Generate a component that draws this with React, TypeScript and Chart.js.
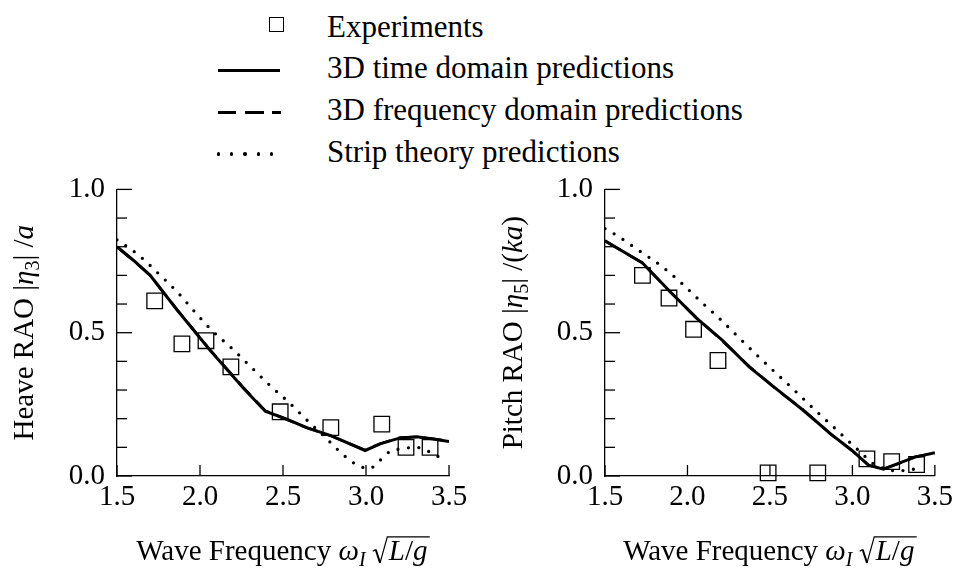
import React, { useEffect, useRef } from 'react';
import { Chart, registerables } from 'chart.js';

Chart.register(...registerables);

const FONT = '"Liberation Serif", "Times New Roman", Times, serif';
const AXIS_FONT_SIZE = 29;
const LEGEND_FONT_SIZE = 31;

// ---------- Data ----------
const xTickLabels = ['1.5', '2.0', '2.5', '3.0', '3.5'];
const yTickLabels = ['0.0', '0.5', '1.0'];

const heaveExpX = [1.727, 1.891, 2.036, 2.186, 2.483, 2.788, 3.095, 3.241, 3.386];
const heaveExpY = [0.611, 0.461, 0.472, 0.381, 0.224, 0.169, 0.181, 0.1, 0.1];

const heaveTimeX = [1.5, 1.6, 1.7, 1.861, 2.062, 2.262, 2.393, 2.523, 2.643, 2.788, 2.995, 3.085, 3.205, 3.305, 3.405, 3.5];
const heaveTimeY = [0.8, 0.752, 0.7, 0.58, 0.438, 0.306, 0.226, 0.198, 0.169, 0.141, 0.089, 0.112, 0.133, 0.137, 0.129, 0.12];

const heaveFreqX = [1.5, 1.6, 1.7, 1.861, 2.062, 2.262, 2.393, 2.523, 2.643, 2.788, 2.995, 3.085, 3.205, 3.305, 3.405, 3.5];
const heaveFreqY = [0.799, 0.751, 0.7, 0.581, 0.439, 0.308, 0.228, 0.197, 0.168, 0.14, 0.09, 0.113, 0.134, 0.136, 0.13, 0.121];

const heaveStripX = [1.5, 1.634, 1.75, 1.865, 1.971, 2.075, 2.196, 2.306, 2.423, 2.539, 2.653, 2.77, 2.824, 2.884, 2.948, 3.02, 3.085, 3.145, 3.219, 3.3, 3.375, 3.45];
const heaveStripY = [0.824, 0.769, 0.706, 0.641, 0.571, 0.506, 0.443, 0.381, 0.315, 0.255, 0.19, 0.126, 0.095, 0.064, 0.038, 0.026, 0.055, 0.086, 0.095, 0.1, 0.086, 0.063];

const pitchExpX = [1.727, 1.888, 2.037, 2.185, 2.489, 2.79, 3.088, 3.238, 3.389];
const pitchExpY = [0.7, 0.621, 0.512, 0.403, 0.011, 0.011, 0.06, 0.05, 0.04];

const pitchTimeX = [1.5, 1.727, 1.888, 2.053, 2.214, 2.374, 2.535, 2.696, 2.87, 2.997, 3.098, 3.188, 3.279, 3.379, 3.5];
const pitchTimeY = [0.821, 0.743, 0.647, 0.552, 0.472, 0.381, 0.306, 0.232, 0.146, 0.089, 0.038, 0.024, 0.044, 0.066, 0.081];

const pitchFreqX = [1.5, 1.727, 1.888, 2.053, 2.214, 2.374, 2.535, 2.696, 2.87, 2.997, 3.098, 3.188, 3.279, 3.379, 3.5];
const pitchFreqY = [0.82, 0.744, 0.646, 0.553, 0.47, 0.383, 0.304, 0.234, 0.145, 0.09, 0.037, 0.025, 0.043, 0.067, 0.08];

const pitchStripX = [1.5, 1.57, 1.707, 1.836, 1.96, 2.073, 2.193, 2.306, 2.419, 2.535, 2.656, 2.77, 2.887, 3.002, 3.059, 3.119, 3.19, 3.262, 3.343, 3.423];
const pitchStripY = [0.863, 0.84, 0.786, 0.735, 0.675, 0.613, 0.55, 0.486, 0.423, 0.36, 0.295, 0.232, 0.17, 0.108, 0.078, 0.046, 0.027, 0.018, 0.021, 0.03];

const legendLabels = ['Experiments', '3D time domain predictions', '3D frequency domain predictions', 'Strip theory predictions'];

// ---------- Rich text helpers ----------
type Seg = { t?: string; it?: boolean; sub?: boolean; root?: Seg[] };

const heaveTitle: Seg[] = [
  { t: 'Heave RAO ' }, { t: '|' }, { t: 'η', it: true }, { t: '3', sub: true }, { t: '|' }, { t: ' /' }, { t: 'a', it: true },
];
const pitchTitle: Seg[] = [
  { t: 'Pitch RAO ' }, { t: '|' }, { t: 'η', it: true }, { t: '5', sub: true }, { t: '|' }, { t: ' /(' }, { t: 'ka', it: true }, { t: ')' },
];
const xTitle: Seg[] = [
  { t: 'Wave Frequency ' }, { t: 'ω', it: true }, { t: 'I', it: true, sub: true }, { t: ' ' },
  { root: [{ t: 'L', it: true }, { t: '/' }, { t: 'g', it: true }] },
];

function fontOf(s: Seg, size: number) {
  const sz = s.sub ? Math.round(size * 0.7) : size;
  return `${s.it ? 'italic ' : ''}${sz}px ${FONT}`;
}

function segsWidth(ctx: CanvasRenderingContext2D, segs: Seg[], size: number): number {
  let w = 0;
  for (const s of segs) {
    if (s.root) {
      w += size * 0.55 + segsWidth(ctx, s.root, size) + size * 0.08;
    } else {
      ctx.font = fontOf(s, size);
      w += ctx.measureText(s.t || '').width;
    }
  }
  return w;
}

function drawSegs(ctx: CanvasRenderingContext2D, segs: Seg[], x: number, y: number, size: number): number {
  for (const s of segs) {
    if (s.root) {
      const inner = segsWidth(ctx, s.root, size);
      const top = y - size * 0.8;
      ctx.save();
      ctx.lineWidth = 1.3;
      ctx.lineJoin = 'miter';
      ctx.beginPath();
      ctx.moveTo(x, y - size * 0.3);
      ctx.lineTo(x + size * 0.1, y - size * 0.36);
      ctx.stroke();
      ctx.lineWidth = 2;
      ctx.beginPath();
      ctx.moveTo(x + size * 0.1, y - size * 0.36);
      ctx.lineTo(x + size * 0.25, y + size * 0.1);
      ctx.stroke();
      ctx.lineWidth = 1.2;
      ctx.beginPath();
      ctx.moveTo(x + size * 0.25, y + size * 0.1);
      ctx.lineTo(x + size * 0.5, top);
      ctx.lineTo(x + size * 0.55 + inner + size * 0.08, top);
      ctx.stroke();
      ctx.restore();
      drawSegs(ctx, s.root, x + size * 0.55, y, size);
      x += size * 0.55 + inner + size * 0.08;
    } else {
      ctx.font = fontOf(s, size);
      ctx.fillText(s.t || '', x, s.sub ? y + size * 0.2 : y);
      x += ctx.measureText(s.t || '').width;
    }
  }
  return x;
}

function pts(xs: number[], ys: number[]) {
  return xs.map((x, i) => ({ x, y: ys[i] }));
}

function isLabelValue(labels: string[], v: number) {
  return labels.find((l) => Math.abs(parseFloat(l) - v) < 1e-6);
}

function makeDecor(yTitle: Seg[], yTitleX: number) {
  return {
    id: 'decor',
    afterDraw(chart: any) {
      const { ctx, chartArea: a, scales } = chart;
      const xs = scales.x;
      const ys = scales.y;
      ctx.save();
      ctx.strokeStyle = '#000';
      ctx.fillStyle = '#000';
      ctx.lineWidth = 1.3;
      ys.ticks.forEach((t: any) => {
        const py = ys.getPixelForValue(t.value);
        const major = !!isLabelValue(yTickLabels, t.value);
        ctx.beginPath();
        ctx.moveTo(a.left, py);
        ctx.lineTo(a.left + (major ? 15 : 10), py);
        ctx.stroke();
      });
      xs.ticks.forEach((t: any) => {
        const px = xs.getPixelForValue(t.value);
        ctx.beginPath();
        ctx.moveTo(px, a.bottom);
        ctx.lineTo(px, a.bottom - 11);
        ctx.stroke();
      });
      ctx.textBaseline = 'alphabetic';
      ctx.textAlign = 'left';
      const size = AXIS_FONT_SIZE;
      const w = segsWidth(ctx, xTitle, size);
      drawSegs(ctx, xTitle, (a.left + a.right) / 2 - w / 2, a.bottom + 84, size);
      ctx.translate(yTitleX, (a.top + a.bottom) / 2);
      ctx.rotate(-Math.PI / 2);
      const wy = segsWidth(ctx, yTitle, size);
      drawSegs(ctx, yTitle, -wy / 2, 0, size);
      ctx.restore();
    },
  };
}

function makeConfig(
  exp: { x: number; y: number }[],
  time: { x: number; y: number }[],
  freq: { x: number; y: number }[],
  strip: { x: number; y: number }[],
  yTitle: Seg[],
  yTitleX: number,
  axisWidth: number,
  padRight: number
): any {
  const tickFont = { family: FONT, size: AXIS_FONT_SIZE };
  return {
    type: 'line',
    data: {
      datasets: [
        {
          label: legendLabels[0],
          data: exp,
          showLine: false,
          pointStyle: 'rect',
          pointRadius: 11,
          pointBorderColor: '#000',
          pointBackgroundColor: 'rgba(0,0,0,0)',
          pointBorderWidth: 1.3,
          borderColor: '#000',
          backgroundColor: 'rgba(0,0,0,0)',
          clip: false,
        },
        {
          label: legendLabels[1],
          data: time,
          borderColor: '#000',
          borderWidth: 3,
          pointRadius: 0,
          tension: 0,
          fill: false,
        },
        {
          label: legendLabels[2],
          data: freq,
          borderColor: '#000',
          borderWidth: 2.6,
          borderDash: [18, 8],
          pointRadius: 0,
          tension: 0,
          fill: false,
        },
        {
          label: legendLabels[3],
          data: strip,
          borderColor: '#000',
          borderWidth: 3.3,
          borderDash: [0, 10.5],
          borderCapStyle: 'round',
          pointRadius: 0,
          cubicInterpolationMode: 'monotone',
          fill: false,
        },
      ],
    },
    options: {
      animation: false,
      responsive: false,
      events: [],
      layout: { padding: { left: 0, top: 24, right: padRight, bottom: 0 } },
      plugins: { legend: { display: false }, tooltip: { enabled: false }, title: { display: false } },
      scales: {
        x: {
          type: 'linear',
          min: 1.5,
          max: 3.5,
          grid: { display: false, drawTicks: false },
          border: { display: true, color: '#000', width: 1.3 },
          ticks: {
            stepSize: 0.5,
            autoSkip: false,
            maxRotation: 0,
            padding: 4,
            color: '#000',
            font: tickFont,
            callback: (v: number) => isLabelValue(xTickLabels, v) ?? '',
          },
          afterFit: (s: any) => {
            s.height = 98;
          },
        },
        y: {
          type: 'linear',
          min: 0,
          max: 1,
          grid: { display: false, drawTicks: false },
          border: { display: true, color: '#000', width: 1.3 },
          ticks: {
            stepSize: 0.1,
            autoSkip: false,
            padding: 12,
            color: '#000',
            font: tickFont,
            callback: (v: number) => isLabelValue(yTickLabels, v) ?? '',
          },
          afterFit: (s: any) => {
            s.width = axisWidth;
          },
        },
      },
    },
    plugins: [makeDecor(yTitle, yTitleX)],
  };
}

export default function App() {
  const leftRef = useRef<HTMLCanvasElement | null>(null);
  const rightRef = useRef<HTMLCanvasElement | null>(null);

  useEffect(() => {
    const charts: Chart[] = [];
    if (leftRef.current) {
      charts.push(
        new Chart(
          leftRef.current,
          makeConfig(
            pts(heaveExpX, heaveExpY),
            pts(heaveTimeX, heaveTimeY),
            pts(heaveFreqX, heaveFreqY),
            pts(heaveStripX, heaveStripY),
            heaveTitle,
            33,
            117,
            29
          )
        )
      );
    }
    if (rightRef.current) {
      charts.push(
        new Chart(
          rightRef.current,
          makeConfig(
            pts(pitchExpX, pitchExpY),
            pts(pitchTimeX, pitchTimeY),
            pts(pitchFreqX, pitchFreqY),
            pts(pitchStripX, pitchStripY),
            pitchTitle,
            44,
            127,
            20
          )
        )
      );
    }
    return () => charts.forEach((c) => c.destroy());
  }, []);

  const textStyle = (top: number): React.CSSProperties => ({
    position: 'absolute',
    left: 327,
    top,
    fontFamily: FONT,
    fontSize: LEGEND_FONT_SIZE,
    lineHeight: `${LEGEND_FONT_SIZE}px`,
    whiteSpace: 'nowrap',
    color: '#000',
  });
  const bar = (left: number, width: number, top: number): React.CSSProperties => ({
    position: 'absolute',
    left,
    top,
    width,
    height: 3,
    background: '#000',
  });
  const dot = (left: number): React.CSSProperties => ({
    position: 'absolute',
    left: left - 1.75,
    top: 154 - 1.75,
    width: 3.5,
    height: 3.5,
    borderRadius: '50%',
    background: '#000',
  });

  return (
    <div
      style={{
        position: 'absolute',
        left: 0,
        top: 0,
        width: 957,
        height: 574,
        background: '#fff',
        overflow: 'hidden',
      }}
    >
      {/* Legend */}
      <div
        style={{
          position: 'absolute',
          left: 269,
          top: 17,
          width: 15,
          height: 15,
          border: '1.3px solid #000',
          boxSizing: 'border-box',
        }}
      />
      <div style={textStyle(11)}>{legendLabels[0]}</div>
      <div style={bar(218, 62, 68.5)} />
      <div style={textStyle(52)}>{legendLabels[1]}</div>
      <div style={bar(218, 18, 110.5)} />
      <div style={bar(245, 19, 110.5)} />
      <div style={bar(272, 9, 110.5)} />
      <div style={textStyle(94)}>{legendLabels[2]}</div>
      <div style={dot(218.3)} />
      <div style={dot(231.7)} />
      <div style={dot(245)} />
      <div style={dot(258.3)} />
      <div style={dot(271.7)} />
      <div style={textStyle(136)}>{legendLabels[3]}</div>

      <canvas
        ref={leftRef}
        width={478}
        height={414}
        style={{ position: 'absolute', left: 0, top: 160, width: 478, height: 414, display: 'block' }}
      />
      <canvas
        ref={rightRef}
        width={479}
        height={414}
        style={{ position: 'absolute', left: 478, top: 160, width: 479, height: 414, display: 'block' }}
      />
    </div>
  );
}
